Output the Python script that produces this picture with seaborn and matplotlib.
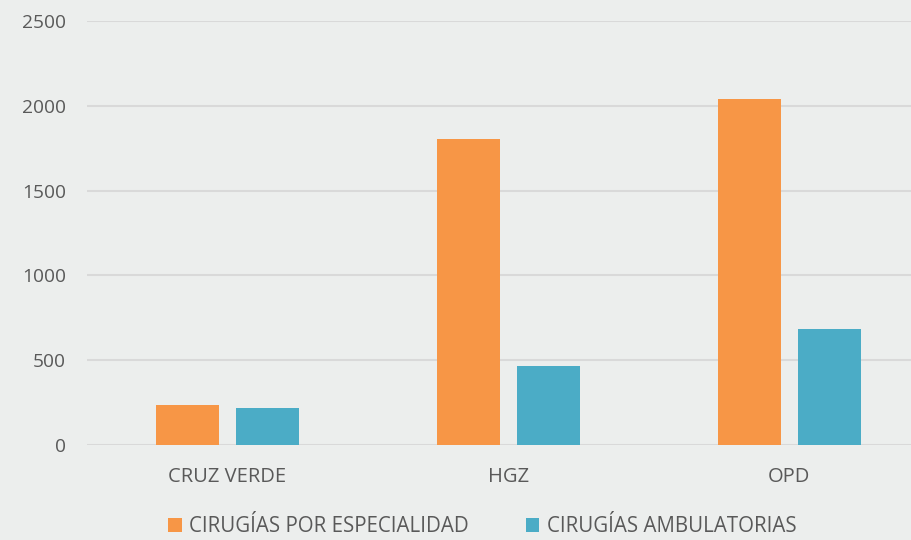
"""
Cirugías por unidad: por especialidad vs. ambulatorias.
Genera out.png (912x540).
"""

import pandas as pd
import matplotlib
matplotlib.use("Agg")
import matplotlib.pyplot as plt
import seaborn as sns

unidades = ["CRUZ VERDE", "HGZ", "OPD"]
series = ["CIRUGÍAS POR ESPECIALIDAD", "CIRUGÍAS AMBULATORIAS"]
cirugias_especialidad = [236, 1805, 2040]
cirugias_ambulatorias = [218, 466, 684]
yticks = [0, 500, 1000, 1500, 2000, 2500]

FONDO = "#ECEEED"
TEXTO = "#595959"
COLORES = ["#F79646", "#4BACC6"]

sns.set_theme(style="white")
plt.rcParams["font.family"] = ["Open Sans", "DejaVu Sans"]

df = pd.DataFrame({
    "unidad": unidades * 2,
    "serie": [series[0]] * 3 + [series[1]] * 3,
    "valor": cirugias_especialidad + cirugias_ambulatorias,
})

fig = plt.figure(figsize=(9.12, 5.4), dpi=100, facecolor=FONDO)
ax = fig.add_axes([0.0954, 0.176, 0.924, 0.785], facecolor=FONDO)

sns.barplot(data=df, x="unidad", y="valor", hue="serie", order=unidades,
            hue_order=series, palette=COLORES, width=0.57, gap=0.21,
            saturation=1, linewidth=0, ax=ax, legend=True)

ax.set_ylim(0, 2500)
ax.set_xlim(-0.5, 2.5)
ax.set_yticks(yticks)
ax.yaxis.grid(True, color="#D9D9D9", linewidth=1.5)
ax.set_axisbelow(True)
for s in ax.spines.values():
    s.set_visible(False)
ax.tick_params(axis="y", length=0, pad=15, labelsize=13.8, labelcolor=TEXTO)
ax.tick_params(axis="x", length=0, pad=16, labelsize=14.5, labelcolor=TEXTO)
ax.set_xlabel("")
ax.set_ylabel("")

leg = ax.legend(loc="center", bbox_to_anchor=(0.469, -0.193), ncol=2,
                frameon=False, fontsize=14.8, handlelength=0.65, handleheight=0.65,
                handletextpad=0.35, columnspacing=2.8, borderpad=0)
for t in leg.get_texts():
    t.set_color(TEXTO)

fig.savefig("out.png", dpi=100, facecolor=FONDO)
plt.close(fig)
